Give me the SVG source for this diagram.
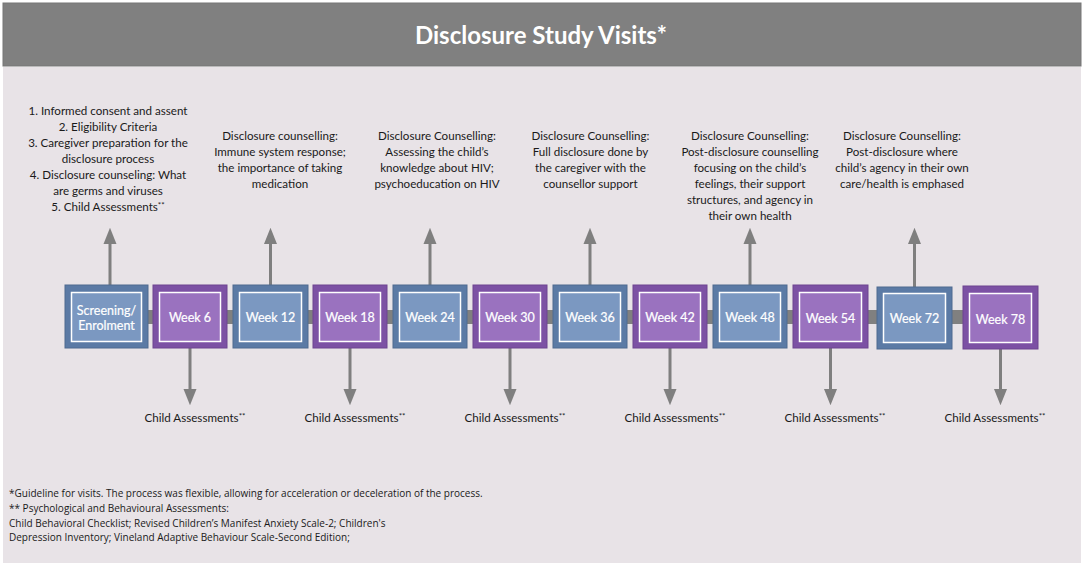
<svg xmlns="http://www.w3.org/2000/svg" width="1084" height="567" viewBox="0 0 1084 567">
<defs>
<style>
.t{font-family:Lato,"Open Sans","Liberation Sans",sans-serif;font-size:11.6px;fill:#1a1a1a;text-anchor:middle}
.bl{font-family:Lato,"Liberation Sans",sans-serif;font-size:12.5px;font-weight:normal;fill:#ffffff;text-anchor:middle;stroke:#ffffff;stroke-width:0.2}
.fn{font-family:"Open Sans","Noto Sans","Liberation Sans",sans-serif;font-size:10px;fill:#1a1a1a}
.ob{fill:#5b7aa5;stroke:#4e6a90;stroke-width:1}
.ib{fill:#7b98c1;stroke:#ffffff;stroke-width:1.5}
.op{fill:#7c51a4;stroke:#6c4490;stroke-width:1}
.ip{fill:#9a72bf;stroke:#ffffff;stroke-width:1.5}
.ar{stroke:#7f7f7f;stroke-width:3;fill:none}
.sup{font-size:8px}
</style>
<marker id="ah" viewBox="0 0 10 10" refX="5" refY="5" markerWidth="5.5" markerHeight="5.5" orient="auto" markerUnits="strokeWidth">
<path d="M0,1 L10,5 L0,9 Z" fill="#7f7f7f"/>
</marker>
</defs>
<rect x="0" y="0" width="1084" height="567" fill="#ffffff"/>
<rect x="3" y="3" width="1078" height="63" fill="#808080" stroke="#767676" stroke-width="1"/>
<rect x="3" y="67" width="1078" height="496" fill="#e8e3e7"/>
<text x="541" y="44" font-family="Lato,'Open Sans','Liberation Sans',sans-serif" font-size="24" font-weight="bold" fill="#ffffff" text-anchor="middle">Disclosure Study Visits*</text>

<g id="connectors">
<rect x="148" y="310" width="815" height="14" fill="#808080"/>
<line class="ar" x1="110" y1="285" x2="110" y2="236" marker-end="url(#ah)"/>
<line class="ar" x1="270.5" y1="285" x2="270.5" y2="236" marker-end="url(#ah)"/>
<line class="ar" x1="430" y1="285" x2="430" y2="236" marker-end="url(#ah)"/>
<line class="ar" x1="590" y1="285" x2="590" y2="236" marker-end="url(#ah)"/>
<line class="ar" x1="750" y1="285" x2="750" y2="236" marker-end="url(#ah)"/>
<line class="ar" x1="914.5" y1="287" x2="914.5" y2="236" marker-end="url(#ah)"/>
<line class="ar" x1="190" y1="348" x2="190" y2="397" marker-end="url(#ah)"/>
<line class="ar" x1="350" y1="348" x2="350" y2="397" marker-end="url(#ah)"/>
<line class="ar" x1="510" y1="348" x2="510" y2="397" marker-end="url(#ah)"/>
<line class="ar" x1="670" y1="348" x2="670" y2="397" marker-end="url(#ah)"/>
<line class="ar" x1="830.5" y1="348" x2="830.5" y2="397" marker-end="url(#ah)"/>
<line class="ar" x1="1000.5" y1="349" x2="1000.5" y2="397" marker-end="url(#ah)"/>
</g>

<g id="screening">
<rect class="ob" x="65" y="285" width="83" height="63"/>
<rect class="ib" x="71.5" y="292.5" width="70" height="49"/>
<text class="bl" x="106.5" y="315">Screening/</text>
<text class="bl" x="106.5" y="330">Enrolment</text>
</g>
<g id="week6"><rect class="op" x="153" y="285" width="74" height="63"/><rect class="ip" x="159.5" y="292.5" width="61" height="49"/><text class="bl" x="190" y="321.5">Week 6</text></g>
<g id="week12"><rect class="ob" x="233" y="285" width="75" height="63"/><rect class="ib" x="239.5" y="292.5" width="62" height="49"/><text class="bl" x="270.5" y="321.5">Week 12</text></g>
<g id="week18"><rect class="op" x="313" y="285" width="74" height="63"/><rect class="ip" x="319.5" y="292.5" width="61" height="49"/><text class="bl" x="350" y="321.5">Week 18</text></g>
<g id="week24"><rect class="ob" x="393" y="285" width="74" height="63"/><rect class="ib" x="399.5" y="292.5" width="61" height="49"/><text class="bl" x="430" y="321.5">Week 24</text></g>
<g id="week30"><rect class="op" x="473" y="285" width="74" height="63"/><rect class="ip" x="479.5" y="292.5" width="61" height="49"/><text class="bl" x="510" y="321.5">Week 30</text></g>
<g id="week36"><rect class="ob" x="553" y="285" width="74" height="63"/><rect class="ib" x="559.5" y="292.5" width="61" height="49"/><text class="bl" x="590" y="321.5">Week 36</text></g>
<g id="week42"><rect class="op" x="633" y="285" width="74" height="63"/><rect class="ip" x="639.5" y="292.5" width="61" height="49"/><text class="bl" x="670" y="321.5">Week 42</text></g>
<g id="week48"><rect class="ob" x="713" y="285" width="74" height="63"/><rect class="ib" x="719.5" y="292.5" width="61" height="49"/><text class="bl" x="750" y="321.5">Week 48</text></g>
<g id="week54"><rect class="op" x="793" y="285" width="75" height="63"/><rect class="ip" x="799.5" y="292.5" width="62" height="49"/><text class="bl" x="830.5" y="322.5">Week 54</text></g>
<g id="week72"><rect class="ob" x="877" y="287" width="75" height="62"/><rect class="ib" x="883.5" y="293.5" width="62" height="49"/><text class="bl" x="914.5" y="322.5">Week 72</text></g>
<g id="week78"><rect class="op" x="963" y="286" width="75" height="63"/><rect class="ip" x="969.5" y="293.5" width="62" height="49"/><text class="bl" x="1000.5" y="323.5">Week 78</text></g>

<g id="desc-screening">
<text class="t" x="108" y="115">1. Informed consent and assent</text>
<text class="t" x="108" y="131">2. Eligibility Criteria</text>
<text class="t" x="108" y="147">3. Caregiver preparation for the</text>
<text class="t" x="108" y="163">disclosure process</text>
<text class="t" x="108" y="179">4. Disclosure counseling: What</text>
<text class="t" x="108" y="195">are germs and viruses</text>
<text class="t" x="108" y="211">5. Child Assessments<tspan class="sup" dy="-3">**</tspan></text>
</g>
<g id="desc-week12">
<text class="t" x="280" y="140">Disclosure counselling:</text>
<text class="t" x="280" y="156">Immune system response;</text>
<text class="t" x="280" y="172">the importance of taking</text>
<text class="t" x="280" y="188">medication</text>
</g>
<g id="desc-week24">
<text class="t" x="437" y="140">Disclosure Counselling:</text>
<text class="t" x="437" y="156">Assessing the child’s</text>
<text class="t" x="437" y="172">knowledge about HIV;</text>
<text class="t" x="437" y="188">psychoeducation on HIV</text>
</g>
<g id="desc-week36">
<text class="t" x="590.5" y="140">Disclosure Counselling:</text>
<text class="t" x="590.5" y="156">Full disclosure done by</text>
<text class="t" x="590.5" y="172">the caregiver with the</text>
<text class="t" x="590.5" y="188">counsellor support</text>
</g>
<g id="desc-week48">
<text class="t" x="750" y="140">Disclosure Counselling:</text>
<text class="t" x="750" y="156">Post-disclosure counselling</text>
<text class="t" x="750" y="172">focusing on the child’s</text>
<text class="t" x="750" y="188">feelings, their support</text>
<text class="t" x="750" y="204">structures, and agency in</text>
<text class="t" x="750" y="220">their own health</text>
</g>
<g id="desc-week72">
<text class="t" x="902" y="140">Disclosure Counselling:</text>
<text class="t" x="902" y="156">Post-disclosure where</text>
<text class="t" x="902" y="172">child’s agency in their own</text>
<text class="t" x="902" y="188">care/health is emphased</text>
</g>

<g id="assessments">
<text class="t" x="195" y="422">Child Assessments<tspan class="sup" dy="-3">**</tspan></text>
<text class="t" x="355" y="422">Child Assessments<tspan class="sup" dy="-3">**</tspan></text>
<text class="t" x="515" y="422">Child Assessments<tspan class="sup" dy="-3">**</tspan></text>
<text class="t" x="675" y="422">Child Assessments<tspan class="sup" dy="-3">**</tspan></text>
<text class="t" x="835" y="422">Child Assessments<tspan class="sup" dy="-3">**</tspan></text>
<text class="t" x="995" y="422">Child Assessments<tspan class="sup" dy="-3">**</tspan></text>
</g>

<g id="footnotes">
<text class="fn" x="9" y="497">*Guideline for visits. The process was flexible, allowing for acceleration or deceleration of the process.</text>
<text class="fn" x="9" y="512">** Psychological and Behavioural Assessments:</text>
<text class="fn" x="9" y="527">Child Behavioral Checklist; Revised Children’s Manifest Anxiety Scale-2; Children's</text>
<text class="fn" x="9" y="541">Depression Inventory; Vineland Adaptive Behaviour Scale-Second Edition;</text>
</g>
</svg>
